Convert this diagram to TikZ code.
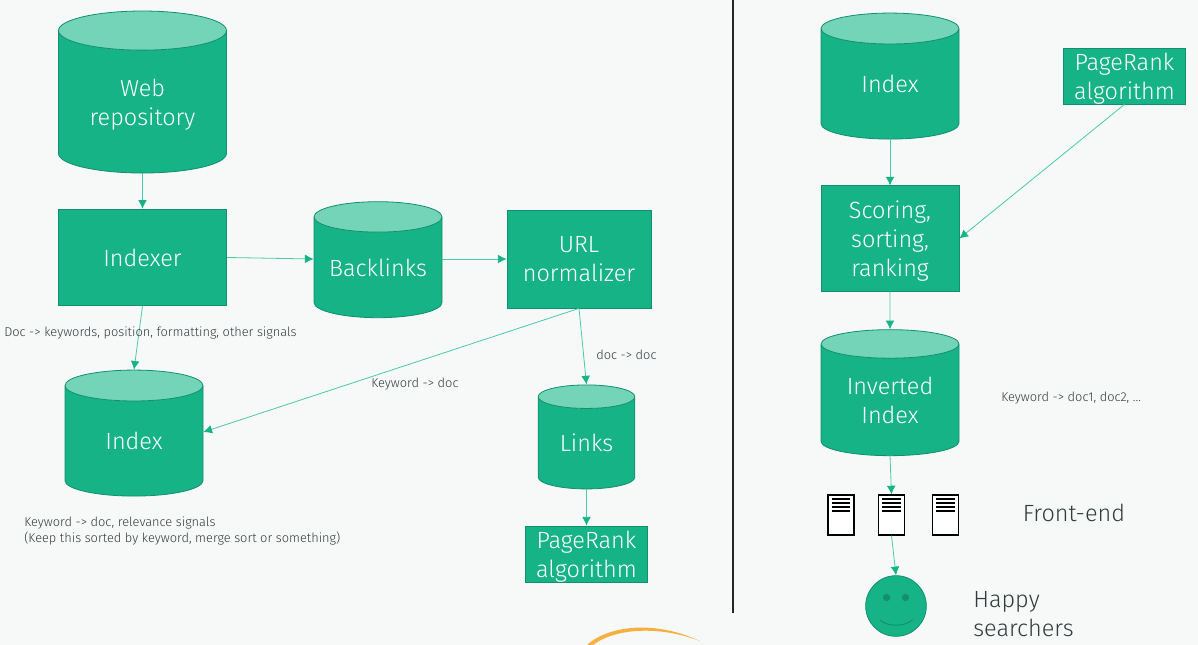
\documentclass[tikz,border=0pt]{standalone}
\usepackage{fontspec}
\setmainfont{Fira Sans}[UprightFont=* Light]
\usetikzlibrary{arrows.meta, shapes.geometric}
\definecolor{bgpage}{HTML}{F7F9F9}
\definecolor{boxfill}{HTML}{15B385}
\definecolor{boxline}{HTML}{128F6E}
\definecolor{topfill}{HTML}{73D4B8}
\definecolor{edgeline}{HTML}{4CC9A6}
\definecolor{inktext}{HTML}{333B3B}
\definecolor{brushline}{HTML}{F5B042}
\tikzset{
  big/.style={font=\fontsize{17.6}{21.75}\selectfont,align=center},
  boxnode/.style={draw=boxline,fill=boxfill,text=white,big,inner sep=0pt,line width=0.6pt},
  cyl/.style={boxnode,fill=none,cylinder,shape border rotate=90,shape aspect=0.37,cylinder uses custom fill,
    cylinder body fill=boxfill,cylinder end fill=topfill},
  note/.style={font=\fontsize{9.6}{12}\selectfont,text=inktext,inner sep=0pt},
  outer/.style={big,text=inktext,inner sep=0pt},
  edge/.style={draw=edgeline,line width=0.6pt,-{Latex[length=6.5pt,width=6.5pt,color=boxfill]}},
  srv/.style={draw=black,fill=white,line width=1.4pt,inner sep=0pt,minimum width=19.5pt,minimum height=29.5pt}
}
\begin{document}
\begin{tikzpicture}[x=0.75pt,y=-0.75pt]
\path[fill=bgpage] (0,0) rectangle (1198,645);
\useasboundingbox (0,0) rectangle (1198,645);
\draw[line width=1.1pt,black!85] (733,0) -- (733,613);
\fill[brushline] (587,645) .. controls (605,628) and (650,618) .. (700,641) .. controls (655,624) and (612,630) .. (593,645) -- cycle;
% left side
\node[cyl,text depth=0pt,minimum width=126pt,minimum height=121.5pt] (webrepo) at (142.5,102) {Web\\repository};
\node[boxnode,minimum width=126.5pt,minimum height=72.5pt] (indexer) at (142.5,257.5) {Indexer};
\node[cyl,shape aspect=0.31,minimum width=96pt,minimum height=87pt] (backlinks) at (378,267.5) {Backlinks};
\node[boxnode,minimum width=108pt,minimum height=73.5pt] (urlnorm) at (579,259) {URL\\normalizer};
\node[cyl,shape aspect=0.54,minimum width=103.5pt,minimum height=94.5pt] (indexl) at (134,441) {Index};
\node[cyl,shape aspect=0.44,minimum width=72.5pt,minimum height=78pt] (links) at (586.5,443) {Links};
\node[boxnode,text depth=0pt,minimum width=92pt,minimum height=42pt] (pagel) at (586.5,554) {PageRank\\algorithm};
% right side
\node[cyl,shape aspect=0.54,minimum width=103.5pt,minimum height=94.5pt] (indexr) at (890,84) {Index};
\node[boxnode,text depth=0pt,minimum width=92pt,minimum height=42pt] (pager) at (1124.5,76) {PageRank\\algorithm};
\node[boxnode,text depth=0pt,minimum width=103.5pt,minimum height=79pt] (scoring) at (890,238.5) {Scoring,\\sorting,\\ranking};
\node[cyl,shape aspect=0.33,minimum width=103.5pt,minimum height=94.5pt] (inverted) at (890,400) {Inverted\\Index};
\foreach \n/\x in {srva/841,srvb/891.5,srvc/945.5}{
  \node[srv] (\n) at (\x,515) {};
  \foreach \dy in {3.2,6.2,9.2,12.2}
    \draw[line width=1.6pt,black] ([xshift=3.5pt,yshift=-\dy pt]\n.north west) -- ([xshift=-3.5pt,yshift=-\dy pt]\n.north east);
}
\node[circle,draw=boxline,fill=boxfill,inner sep=0pt,minimum size=45.5pt,line width=0.6pt] (smile) at (896,606) {};
\node[circle,fill=boxline,inner sep=0pt,minimum size=5.5pt] (eyea) at (886.5,597.5) {};
\node[circle,fill=boxline,inner sep=0pt,minimum size=5.5pt] (eyeb) at (905.5,597.5) {};
\draw[boxline,line width=0.7pt] (880,620) .. controls (888,627) and (904,627) .. (912.5,620);
% edges
\draw[edge] (webrepo.south) -- (indexer.north);
\draw[edge] (indexer.east) -- (urlnorm.west -| backlinks.west);
\draw[edge] (urlnorm.west -| backlinks.east) -- (urlnorm.west);
\draw[edge] (indexer.south) -- (indexl.north);
\draw[edge] (urlnorm.south) -- ([yshift=6.75pt]indexl.east);
\draw[edge] (urlnorm.south) -- (links.north);
\draw[edge] (links.south) -- (pagel.north);
\draw[edge] (indexr.south) -- (scoring.north);
\draw[edge] (pager.south) -- (scoring.east);
\draw[edge] (scoring.south) -- (inverted.north);
\draw[edge] (inverted.south) -- (srvb.north);
\draw[edge] (srvb.south) -- (smile.north);
% labels
\node[note,anchor=west] (lblkw) at (4,333) {Doc -> keywords, position, formatting, other signals};
\node[note,anchor=west] (lbldoc) at (371,384) {Keyword -> doc};
\node[note,anchor=west] (lbllink) at (596,355) {doc -> doc};
\node[note,anchor=north west,align=left] (lblsort) at (24,517) {Keyword -> doc, relevance signals\\(Keep this sorted by keyword, merge sort or something)};
\node[note,anchor=west] (lblinv) at (1001,398) {Keyword -> doc1, doc2, ...};
\node[outer] (frontend) at (1074,513) {Front-end};
\node[outer,anchor=west,align=left] (happy) at (973,614) {Happy\\searchers};
\end{tikzpicture}
\end{document}
